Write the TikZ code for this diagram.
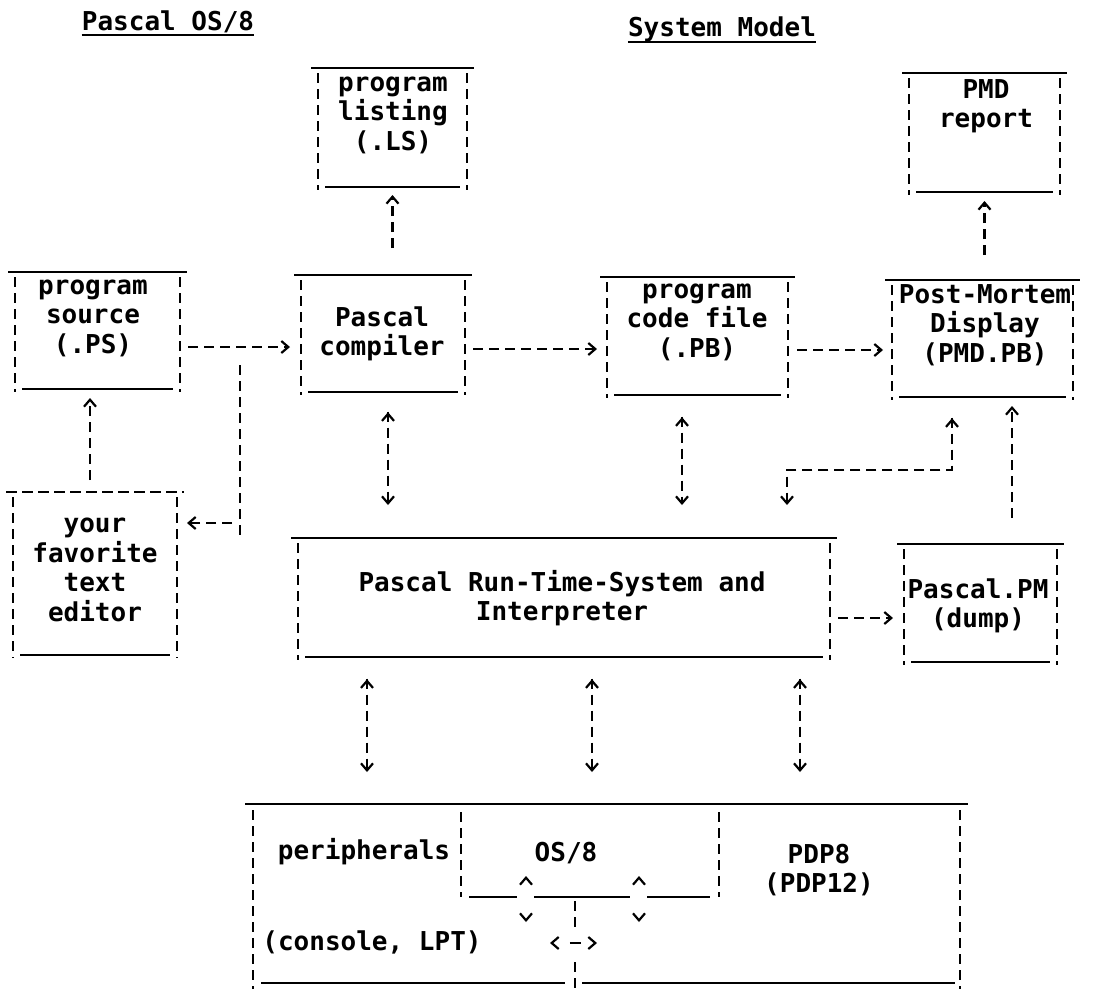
\documentclass[tikz,border=0pt]{standalone}
\usepackage{fontspec}
\setmonofont{DejaVu Sans Mono}
\usepackage{tikz}
\usetikzlibrary{arrows.meta}

\tikzset{
  rule/.style={line width=2.8pt},
  side/.style={line width=2.2pt, dash pattern=on 10pt off 6pt},
  topdash/.style={rule, dash pattern=on 11pt off 5pt},
  uline/.style={line width=2.4pt},
  fbox/.style={inner sep=0pt, outer sep=0pt},
  txt/.style={font=\fontsize{26}{29.5}\selectfont\ttfamily\bfseries, align=center, inner sep=0pt},
  chev/.tip={Bar[width=0pt,sep=10pt]Straight Barb[length=7pt,width=12pt]},
  vehc/.tip={Straight Barb[length=7pt,width=12pt]Bar[width=0pt,sep=10pt]},
  link/.style={line width=2.2pt, dash pattern=on 10pt off 6pt, -chev},
  dlink/.style={line width=2.2pt, dash pattern=on 10pt off 6pt, vehc-chev},
  pair/.style={line width=2.2pt, dash pattern=on 0pt off 80pt,
    {Straight Barb[length=7pt,width=12pt]}-{Straight Barb[length=7pt,width=12pt]}}
}

% solid top and bottom, dashed sides
\newcommand{\boxlines}[2][rule]{%
  \draw[#1] ([xshift=-7pt]#2.north west) -- ([xshift=7pt]#2.north east);
  \draw[side] ([yshift=-5pt]#2.north west) -- ([yshift=-3pt]#2.south west);
  \draw[side] ([yshift=-5pt]#2.north east) -- ([yshift=-3pt]#2.south east);
  \draw[rule] ([xshift=7pt]#2.south west) -- ([xshift=-7pt]#2.south east);
}

\begin{document}
\begin{tikzpicture}[x=1pt,y=-1pt]
\useasboundingbox (0,0) rectangle (1110,989);

% Titles
\node[txt, anchor=base] (ttl-l) at (168,30) {Pascal OS/8};
\node[txt, anchor=base] (ttl-r) at (722,36) {System Model};
\draw[uline] ([yshift=-5pt]ttl-l.base west) -- ([yshift=-5pt]ttl-l.base east);
\draw[uline] ([yshift=-6pt]ttl-r.base west) -- ([yshift=-6pt]ttl-r.base east);

% Files and programs
\node[fbox, minimum width=149pt, minimum height=119pt] (list) at (392.5,127.5) {};
\node[fbox, minimum width=151pt, minimum height=119pt] (pmdr) at (984.5,132.5) {};
\node[fbox, minimum width=165pt, minimum height=117pt] (src)  at (97.5,330.5) {};
\node[fbox, minimum width=164pt, minimum height=117pt] (comp) at (383,333.5) {};
\node[fbox, minimum width=181pt, minimum height=118pt] (code) at (697.5,336) {};
\node[fbox, minimum width=181pt, minimum height=117pt] (pmd)  at (982.5,338.5) {};
\node[fbox, minimum width=164pt, minimum height=163pt] (edit) at (95,573.5) {};
\node[fbox, minimum width=532pt, minimum height=119pt] (rts)  at (564,597.5) {};
\node[fbox, minimum width=153pt, minimum height=118pt] (dump) at (980.5,603) {};
\node[fbox, minimum width=707pt, minimum height=179pt] (hw)   at (606.5,893.5) {};
\node[fbox, minimum width=258pt, minimum height=93pt]  (os)   at (590,850.5) {};

\boxlines{list}
\boxlines{pmdr}
\boxlines{src}
\boxlines{comp}
\boxlines{code}
\boxlines{pmd}
\boxlines[topdash]{edit}
\boxlines{rts}
\boxlines{dump}

\node[txt] (list-t) at (393,115) {program\\listing\\(.LS)};
\node[txt] (pmdr-t) at (986,106) {PMD\\report};
\node[txt] (src-t)  at (93,318) {program\\source\\(.PS)};
\node[txt] (comp-t) at (382,334) {Pascal\\compiler};
\node[txt] (code-t) at (697,322) {program\\code file\\(.PB)};
\node[txt] (pmd-t)  at (985,325) {Post-Mortem\\Display\\(PMD.PB)};
\node[txt] (edit-t) at (95,570) {your\\favorite\\text\\editor};
\node[txt] (rts-t)  at (562,598) {Pascal Run-Time-System and\\Interpreter};
\node[txt] (dump-t) at (978,606) {Pascal.PM\\(dump)};

% Machine (bottom)
\draw[rule] ([xshift=-8pt]hw.north west) -- ([xshift=8pt]hw.north east);
\draw[side] ([yshift=-6pt]hw.north west) -- ([yshift=-6pt]hw.south west);
\draw[side] ([yshift=-6pt]hw.north east) -- ([yshift=-6pt]hw.south east);
\draw[rule] ([xshift=8pt]hw.south west) -- (565,983);
\draw[rule] (582,983) -- ([xshift=-5pt]hw.south east);
\draw[side] ([yshift=-8pt]os.north west) -- (os.south west);
\draw[side] ([yshift=-8pt]os.north east) -- (os.south east);
\foreach \a/\b in {469/517,534/630,647/710}
  \draw[rule] (\a,897) -- (\b,897);
\foreach \x in {526,639}
  \draw[pair] (\x,922) -- (\x,876);
\draw[side] (575,901) -- (575,930);
\draw[side] (575,962) -- (575,989);
\coordinate (pl) at (550,943);
\coordinate (pr) at (597,943);
\draw[pair, dash pattern=on 0pt off 17pt on 11pt off 40pt] (pl) -- (pr);

\node[txt] (peri-t) at (364,852) {peripherals};
\node[txt] (os-t)   at (566,853) {OS/8};
\node[txt] (pdp-t)  at (819,870) {PDP8\\(PDP12)};
\node[txt] (lpt-t)  at (372,942) {(console, LPT)};

% Compile path
\draw[link, shorten <=8pt, shorten >=11pt] ([yshift=-16.5pt]src.east) -- ([yshift=-16.5pt]src.east -| comp.west);
\draw[link, shorten <=8pt, shorten >=10pt] ([yshift=-15.5pt]comp.east) -- ([yshift=-15.5pt]comp.east -| code.west);
\draw[link, shorten <=9pt, shorten >=9pt] ([yshift=-14pt]code.east) -- ([yshift=-14pt]code.east -| pmd.west);
\draw[link, shorten <=27pt, shorten >=8pt] (comp.north -| list.south) -- (list.south);
\draw[link, shorten <=25pt, shorten >=9pt] (pmd.north -| pmdr.south) -- (pmdr.south);
\draw[link, shorten <=12pt, shorten >=9pt] ([xshift=-5pt]edit.north) -- ([xshift=-5pt]edit.north |- src.south);

% Back to the editor
\coordinate (br) at (240,365);
\coordinate (brj) at (240,523);
\coordinate (brend) at (240,538);
\draw[side] (br) -- (brend);
\draw[link, shorten <=8pt, shorten >=10pt] (brj) -- (brj -| edit.east);

% Run-time system
\draw[dlink, shorten <=8pt, shorten >=33pt] ([xshift=5pt]comp.south) -- ([xshift=5pt]comp.south |- rts.north);
\draw[dlink, shorten <=10pt, shorten >=33pt] ([xshift=-15.5pt]code.south) -- ([xshift=-15.5pt]code.south |- rts.north);
\coordinate (jr) at (952,470);
\coordinate (jl) at (787,470);
\draw[dlink, shorten <=9pt, shorten >=33pt] (pmd.south -| jr) -- (jr) -- (jl) -- (jl |- rts.north);
\draw[link, shorten <=26pt, shorten >=9pt] ([xshift=31.5pt]dump.north) -- ([xshift=31.5pt]dump.north |- pmd.south);
\draw[link, shorten <=8pt, shorten >=11pt] ([yshift=-20.5pt]rts.east) -- ([yshift=-20.5pt]rts.east -| dump.west);
\foreach \x in {367,592,800}
  \draw[dlink, shorten <=10pt, shorten >=32pt] (rts.south -| \x,0) -- (hw.north -| \x,0);
\end{tikzpicture}
\end{document}
